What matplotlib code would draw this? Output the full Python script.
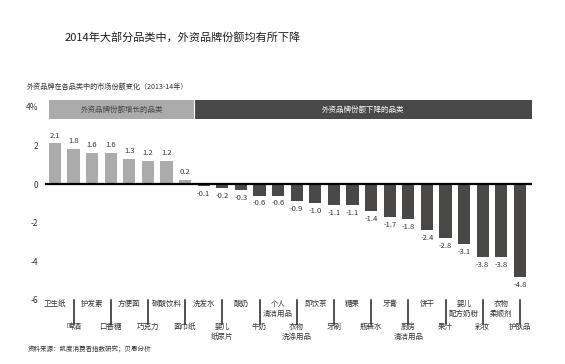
import matplotlib
matplotlib.use("Agg")
import matplotlib.pyplot as plt
from matplotlib.transforms import blended_transform_factory

plt.rcParams['font.family'] = ['Noto Sans CJK SC', 'DejaVu Sans']

categories = ['卫生纸', '啤酒', '护发素', '口香糖', '方便面', '巧克力', '碳酸饮料', '面巾纸',
              '洗发水', '婴儿\n纸尿片', '酸奶', '牛奶', '个人\n清洁用品', '衣物\n洗涤用品',
              '即饮茶', '牙刷', '糖果', '瓶装水', '牙膏', '厨房\n清洁用品', '饼干', '果汁',
              '婴儿\n配方奶粉', '彩妆', '衣物\n柔顺剂', '护肤品']
values = [2.1, 1.8, 1.6, 1.6, 1.3, 1.2, 1.2, 0.2, -0.1, -0.2, -0.3, -0.6, -0.6, -0.9,
          -1.0, -1.1, -1.1, -1.4, -1.7, -1.8, -2.4, -2.8, -3.1, -3.8, -3.8, -4.8]
yticks = [4, 2, 0, -2, -4, -6]
ytick_labels = ['4%', '2', '0', '-2', '-4', '-6']
band_labels = ['外资品牌份额增长的品类', '外资品牌份额下降的品类']

light = '#ababab'
dark = '#4b4848'
txt = '#333333'

fig = plt.figure(figsize=(5.65, 3.64), dpi=100)
ax = fig.add_axes([0.0775, 0.1604, 0.869, 0.578])

x = list(range(len(values)))
n_up = sum(1 for v in values if v > 0)
colors = [light if v > 0 else dark for v in values]
ax.bar(x, values, width=0.65, color=colors, zorder=2)

for i, v in enumerate(values):
    if v > 0:
        ax.text(i, v + 0.2, f'{v:.1f}', ha='center', va='bottom', fontsize=5.5, color=txt)
    else:
        ax.text(i, v - 0.2, f'{v:.1f}', ha='center', va='top', fontsize=5.5, color=txt)

# zero line
ax.plot([-0.55, 25.65], [0, 0], color='black', lw=1.6, zorder=3, solid_capstyle='butt')

# header bands
split = n_up - 0.5
ax.fill_between([-0.33, split], 3.35, 4.35, color=light, lw=0, zorder=1)
ax.fill_between([split, 25.65], 3.35, 4.35, color=dark, lw=0, zorder=1)
ax.plot([split, split], [3.35, 4.35], color='white', lw=0.8, zorder=2)
ax.text((-0.33 + split) / 2, 3.85, band_labels[0], ha='center', va='center',
        fontsize=5.4, color='#444444')
ax.text((split + 25.65) / 2, 3.85, band_labels[1], ha='center', va='center',
        fontsize=5.4, color='white')

ax.set_xlim(-0.6, 25.8)
ax.set_ylim(-6.3, 4.6)
ax.set_yticks(yticks)
ax.set_yticklabels(ytick_labels, fontsize=6, color=txt)
ax.tick_params(axis='y', length=0, pad=4)
ax.set_xticks([])
for s in ax.spines.values():
    s.set_visible(False)

# category labels below, alternating rows
tr = blended_transform_factory(ax.transData, fig.transFigure)
H = 364.0
for i, c in enumerate(categories):
    if i % 2 == 0:
        ax.text(i, 1 - 300 / H, c, transform=tr, ha='center', va='top', fontsize=5.4,
                color=txt, linespacing=1.3, clip_on=False)
    else:
        ax.plot([i, i], [1 - 300 / H, 1 - 324 / H], transform=tr, color='#222222',
                lw=1.1, clip_on=False)
        ax.text(i, 1 - 323 / H, c, transform=tr, ha='center', va='top', fontsize=5.4,
                color=txt, linespacing=1.3, clip_on=False)

fig.text(65 / 565, 1 - 37 / H, '2014年大部分品类中，外资品牌份额均有所下降',
         ha='left', va='center', fontsize=8.0, color='#1e1e1e', fontweight='medium')
fig.text(27 / 565, 1 - 87 / H, '外资品牌在各品类中的市场份额变化（2013-14年）',
         ha='left', va='center', fontsize=5.1, color=txt)
fig.text(28 / 565, 1 - 350 / H, '资料来源：凯度消费者指数研究；贝恩分析',
         ha='left', va='center', fontsize=4.7, color=txt)

fig.savefig('out.png', dpi=100)
